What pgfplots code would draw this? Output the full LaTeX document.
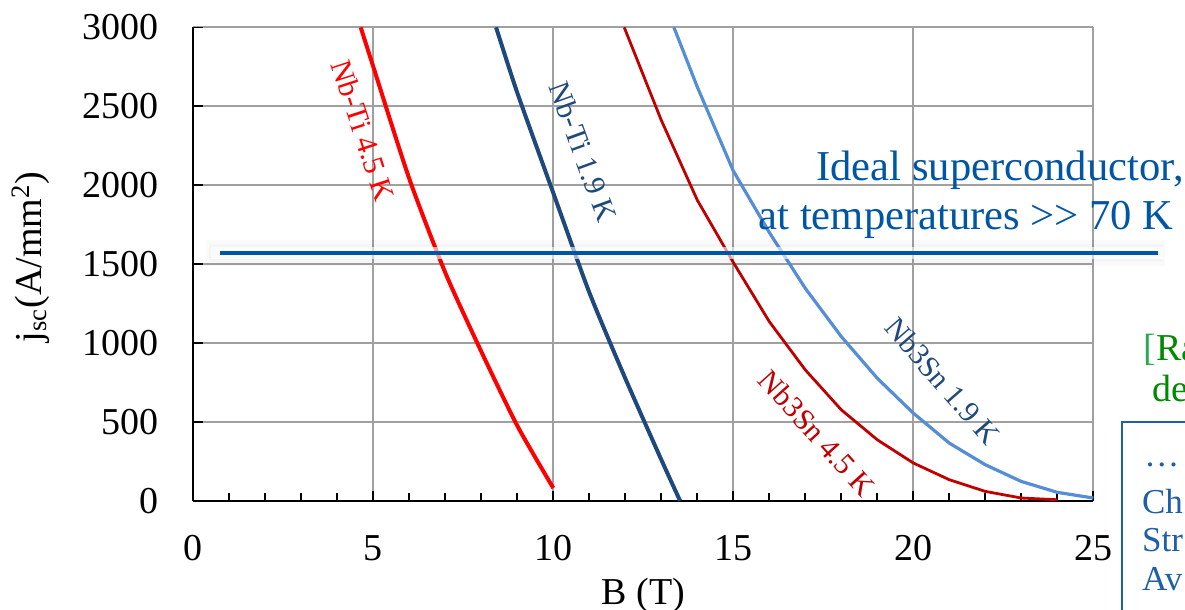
\documentclass[border=0pt]{standalone}
\usepackage{fontspec}
\setmainfont{Liberation Serif}
\usepackage{pgfplots}
\pgfplotsset{compat=1.18}
\definecolor{nbtired}{HTML}{FF0000}
\definecolor{navy}{HTML}{1F497D}
\definecolor{darkred}{HTML}{C00000}
\definecolor{lightblue}{HTML}{558ED5}
\definecolor{idealblue}{HTML}{0055A5}
\definecolor{gridgray}{HTML}{A0A0A0}
\definecolor{refgreen}{HTML}{008A00}
\definecolor{brgreen}{HTML}{2AAA50}
\definecolor{boxblue}{HTML}{1F5FA8}
\begin{document}
\begin{tikzpicture}
\begin{axis}[
  at={(96.65pt,-250.35pt)}, anchor=south west,
  scale only axis, width=450pt, height=236.7pt,
  xmin=0, xmax=25, ymin=0, ymax=3000,
  xtick={0,5,10,15,20,25}, ytick={0,500,1000,1500,2000,2500,3000},
  minor x tick num=4,
  axis lines*=left,
  grid=major,
  major grid style={draw=gridgray, line width=0.9pt},
  axis line style={black, line width=0.9pt},
  tick align=inside,
  major tick length=5pt, minor tick length=4pt,
  every tick/.style={black, line width=0.8pt},
  clip=false,
  no markers,
  scaled ticks=false,
  /pgf/number format/1000 sep={},
  /pgf/number format/assume math mode=true,
  ticklabel style={font=\fontsize{19}{22}\selectfont, inner sep=0pt},
  xticklabel style={anchor=north, yshift=-17.2pt},
  yticklabel style={anchor=east, xshift=-17pt},
  xlabel={B (T)},
  ylabel={j\textsubscript{sc}(A/mm\textsuperscript{2})},
  label style={font=\fontsize{19}{22}\selectfont},
  xlabel style={at={(axis description cs:0.5,-0.2203)}, anchor=base},
  ylabel style={at={(axis description cs:-0.1684,0.5148)}, anchor=base},
]
% Nb-Ti 4.5 K
\addplot[nbtired, line width=2pt, smooth, tension=0.4] coordinates {
 (4.65,3000) (5,2750) (6,2040) (7,1445) (8,945) (9,475) (10,80)};
% Nb-Ti 1.9 K
\addplot[navy, line width=2pt, smooth, tension=0.4] coordinates {
 (8.41,3000) (9,2585) (10,1950) (11,1320) (12,775) (13,260) (13.52,0)};
% Nb3Sn 4.5 K
\addplot[darkred, line width=1.4pt] coordinates {
 (11.97,3000) (13,2411) (14,1905) (15,1510) (16,1135) (17,829) (18,576)
 (19,386) (20,239) (21,133) (22,59) (23,17) (24,6)};
% Nb3Sn 1.9 K
\addplot[lightblue, line width=1.6pt] coordinates {
 (13.35,3000) (14,2622) (15,2090) (16,1700) (17,1346) (18,1040) (19,776)
 (20,555) (21,365) (22,228) (23,122) (24,53) (25,17)};
% ideal superconductor line with its soft shadow
\addplot[black, opacity=0.018, line width=13pt] coordinates {(0.35,1570) (27.0,1570)};
\addplot[black, opacity=0.018, line width=9pt] coordinates {(0.45,1570) (26.95,1570)};
\addplot[white, opacity=0.6, line width=6pt] coordinates {(0.5,1570) (26.95,1570)};
\addplot[idealblue, line width=2pt] coordinates {(0.75,1570) (26.79,1570)};
% curve labels
\node[rotate=-72, text=nbtired, font=\fontsize{15}{18}\selectfont, inner sep=0pt] at (axis cs:4.72,2344) {Nb-Ti 4.5 K};
\node[rotate=-70, text=navy, font=\fontsize{15}{18}\selectfont, inner sep=0pt] at (axis cs:10.83,2212) {Nb-Ti 1.9 K};
\node[rotate=-48, text=darkred, font=\fontsize{15}{18}\selectfont, inner sep=0pt] at (axis cs:17.32,427) {Nb3Sn 4.5 K};
\node[rotate=-49, text=navy, font=\fontsize{15}{18}\selectfont, inner sep=0pt] at (axis cs:20.81,760) {Nb3Sn 1.9 K};
\end{axis}
\begin{scope}[x=0.5pt,y=-0.5pt]
\node[anchor=base west, inner sep=0pt, text=idealblue, font=\fontsize{21.3}{25}\selectfont] at (816,180.7) {Ideal superconductor,};
\node[anchor=base west, inner sep=0pt, text=idealblue, font=\fontsize{21.3}{25}\selectfont] at (758.3,230) {at temperatures >\kern0pt> 70 K};
\node[anchor=base west, inner sep=0pt, font=\fontsize{19}{22}\selectfont] at (1143.3,360) {\textcolor{brgreen}{[}\textcolor{refgreen}{Ra}};
\node[anchor=base west, inner sep=0pt, text=refgreen, font=\fontsize{19}{22}\selectfont] at (1151.7,401.7) {de};
\draw[boxblue, line width=1pt] (1121.5,421.5) rectangle (1400,700);
\node[anchor=base west, inner sep=0pt, text=boxblue, font=\fontsize{17.5}{20}\selectfont] at (1144,466) {…};
\node[anchor=base west, inner sep=0pt, text=boxblue, font=\fontsize{17.5}{20}\selectfont] at (1141.7,513.3) {Ch};
\node[anchor=base west, inner sep=0pt, text=boxblue, font=\fontsize{17.5}{20}\selectfont] at (1141.7,551.7) {Str};
\node[anchor=base west, inner sep=0pt, text=boxblue, font=\fontsize{17.5}{20}\selectfont] at (1141.7,590) {Av};
\end{scope}
\pgfresetboundingbox
\useasboundingbox (0,0) rectangle (592.5pt,-305pt);
\end{tikzpicture}
\end{document}
